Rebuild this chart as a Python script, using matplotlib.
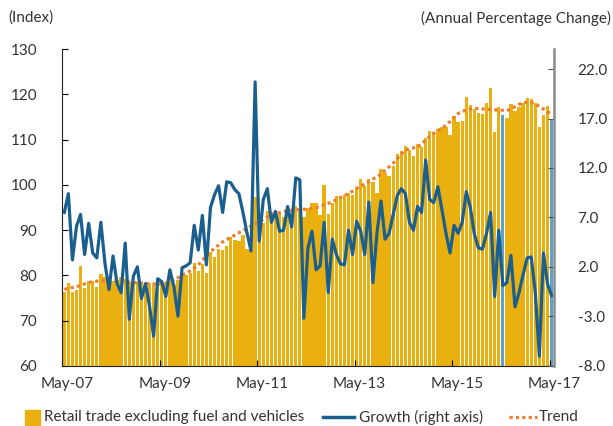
import numpy as np
import matplotlib.pyplot as plt
from matplotlib.patches import Rectangle
from matplotlib.transforms import ScaledTranslation

plt.rcParams['font.family'] = ['Lato', 'DejaVu Sans']
plt.rcParams['axes.unicode_minus'] = False

# monthly, May-07 .. May-17
retail = [76.2, 78.4, 76.4, 76.8, 82.1, 77.3, 78.7, 78.7, 77.5, 80.3, 79.6, 78.6,
          78.7, 79.0, 79.7, 79.2, 78.6, 78.7, 78.6, 78.4, 78.2, 78.2, 77.9, 79.0,
          78.7, 78.6, 79.5, 77.9, 79.0, 80.4, 80.0, 80.6, 82.7, 81.0, 82.5, 80.6,
          85.2, 84.1, 85.8, 85.6, 86.5, 88.4, 87.8, 87.6, 88.9, 85.8, 85.5, 97.4,
          91.1, 91.5, 94.3, 94.1, 93.7, 93.9, 93.0, 94.6, 93.7, 95.3, 94.6, 93.0,
          95.0, 95.9, 96.1, 93.3, 99.9, 93.6, 95.9, 97.6, 97.3, 97.8, 98.3, 97.8,
          99.5, 101.3, 99.8, 101.3, 100.6, 98.3, 103.5, 102.6, 102.0, 104.2, 106.8, 107.6,
          108.6, 107.7, 106.4, 109.1, 108.3, 110.3, 112.0, 111.6, 112.3, 112.9, 112.7, 111.0,
          115.3, 114.0, 114.1, 119.4, 117.7, 116.9, 115.8, 115.7, 118.1, 121.4, 111.8, 117.2,
          115.5, 114.7, 117.8, 116.4, 117.3, 118.2, 119.2, 118.9, 118.1, 112.7, 115.5, 117.5,
          114.5]

growth = [7.5, 9.4, 2.7, 6.1, 7.3, 3.25, 6.4, 3.4, 2.9, 6.5, 2.4, -0.3,
          3.1, 0.3, -0.6, 4.4, -3.3, 1.05, 2.0, -1.2, 0.3, -2.0, -5.0, 0.8,
          0.5, -1.0, 1.7, 0.0, -3.0, 1.9, 2.1, 2.4, 6.2, 3.7, 7.2, 2.2,
          8.0, 9.3, 10.2, 7.5, 10.6, 10.5, 9.8, 9.4, 7.5, 5.4, 3.6, 20.7,
          4.6, 8.8, 9.9, 6.5, 7.6, 5.6, 5.7, 8.1, 6.05, 11.0, 10.8, -3.2,
          3.9, 5.6, 1.7, 2.1, 6.5, -0.6, 4.8, 3.25, 2.3, 2.2, 5.7, 3.25,
          6.6, 5.6, 3.25, 8.55, 0.4, 5.4, 8.65, 4.8, 5.4, 7.3, 9.2, 9.9,
          9.4, 6.5, 5.7, 8.1, 7.5, 12.8, 8.8, 8.5, 10.1, 7.8, 5.4, 3.4,
          6.2, 5.4, 6.5, 9.6, 8.0, 5.3, 3.9, 3.8, 5.4, 7.5, -1.0, 5.7,
          0.1, 0.4, 3.15, -2.05, -0.6, 1.2, 2.9, 3.0, -0.6, -7.05, 3.4, 0.3,
          -0.9]

trend = [76.9, 77.1, 77.3, 77.5, 77.8, 78.1, 78.4, 78.6, 78.7, 78.8, 78.8, 78.8,
         78.8, 78.8, 78.7, 78.6, 78.5, 78.4, 78.4, 78.3, 78.2, 78.1, 78.1, 78.1,
         78.1, 78.2, 78.5, 79.0, 79.5, 80.1, 80.4, 81.0, 81.6, 82.3, 83.3, 84.3,
         85.2, 86.0, 86.7, 87.4, 87.9, 88.4, 88.9, 89.4, 89.9, 90.4, 90.9, 91.4,
         91.9, 92.4, 92.9, 93.3, 93.6, 93.9, 94.1, 94.3, 94.4, 94.5, 94.5, 94.6,
         94.6, 94.8, 95.0, 95.2, 95.6, 95.9, 96.3, 96.7, 97.2, 97.6, 98.1, 98.6,
         99.2, 99.7, 100.2, 100.7, 101.3, 101.8, 102.4, 103.2, 104.0, 104.8, 105.8, 106.8,
         107.7, 108.0, 108.2, 108.3, 109.1, 109.9, 110.7, 111.4, 112.0, 112.5, 113.2, 114.0,
         114.9, 115.8, 116.2, 116.6, 116.8, 116.9, 116.9, 116.8, 116.7, 116.7, 116.6, 116.6,
         116.5, 116.4, 116.8, 117.3, 117.8, 118.2, 118.3, 118.2, 118.0, 117.3, 116.8, 116.2,
         115.7]

highlight = [108, 120]   # May-16 and May-17
tick_pos = [0, 24, 48, 72, 96, 120]
tick_labels = ['May-07', 'May-09', 'May-11', 'May-13', 'May-15', 'May-17']

gold = '#EAB010'
blue = '#1A5F8E'
light_blue = '#5BA3CD'
orange = '#EE7D31'
txt = '#333333'
fs = 11

fig = plt.figure(figsize=(6.13, 4.26), dpi=100)
ax = fig.add_axes([0.1016, 0.1415, 0.8021, 0.7428])

x = np.arange(len(retail)) + 0.5
colors = [gold] * len(retail)
for h in highlight:
    colors[h] = light_blue
ax.bar(x, retail, width=0.82, color=colors, zorder=1)
ax.plot(x, trend, color=orange, lw=2.3, ls=(0, (1, 1)), zorder=3)

ax2 = ax.twinx()
ax2.plot(x, growth, color=blue, lw=2.3, solid_joinstyle='round')

ax.set_xlim(0, 121.1)
ax.set_ylim(60, 130)
ax2.set_ylim(-8, 24)
ax.set_yticks(range(60, 131, 10))
ax2.set_yticks(np.arange(-8, 23, 5))
ax2.set_yticklabels(['%.1f' % v for v in np.arange(-8, 23, 5)])
ax.set_xticks(tick_pos)
ax.set_xticklabels(tick_labels)

for s in ['top', 'right']:
    ax.spines[s].set_visible(False)
for s in ['top', 'left', 'bottom']:
    ax2.spines[s].set_visible(False)
ax.spines['left'].set_color('#222222')
ax.spines['bottom'].set_color('#222222')
ax2.spines['right'].set_color('#8a8a8a')
ax2.spines['right'].set_linewidth(1.8)

ax.tick_params(axis='y', direction='in', length=4, pad=18, labelsize=fs, labelcolor=txt)
ax.tick_params(axis='x', direction='in', length=4, pad=8, labelsize=fs, labelcolor=txt)
ax2.tick_params(axis='y', direction='in', length=4, pad=17, labelsize=fs, labelcolor=txt, color='#555555')

for lab in ax.get_xticklabels():
    lab.set_transform(lab.get_transform() + ScaledTranslation(0.05, 0, fig.dpi_scale_trans))

fig.text(8 / 613, 1 - 18 / 426, '(Index)', va='center', ha='left', fontsize=fs, color=txt)
fig.text(611 / 613, 1 - 18 / 426, '(Annual Percentage Change)', va='center', ha='right',
         fontsize=fs, color=txt)

# legend, laid out in pixel units on an overlay
lax = fig.add_axes([0, 0, 1, 1], zorder=-1)
lax.set_xlim(0, 613)
lax.set_ylim(426, 0)
lax.axis('off')
ly = 417
lax.add_patch(Rectangle((25, ly - 7.5), 15, 15, color=gold))
lax.text(44, ly, 'Retail trade excluding fuel and vehicles', va='center', fontsize=fs, color=txt)
lax.plot([323, 354], [ly, ly], color=blue, lw=2.5)
lax.text(359, ly, 'Growth (right axis)', va='center', fontsize=fs, color=txt)
lax.plot([509, 537], [ly, ly], color=orange, lw=2.3, ls=(0, (1, 1)))
lax.text(539, ly, 'Trend', va='center', fontsize=fs, color=txt)

fig.savefig('out.png', dpi=100)
